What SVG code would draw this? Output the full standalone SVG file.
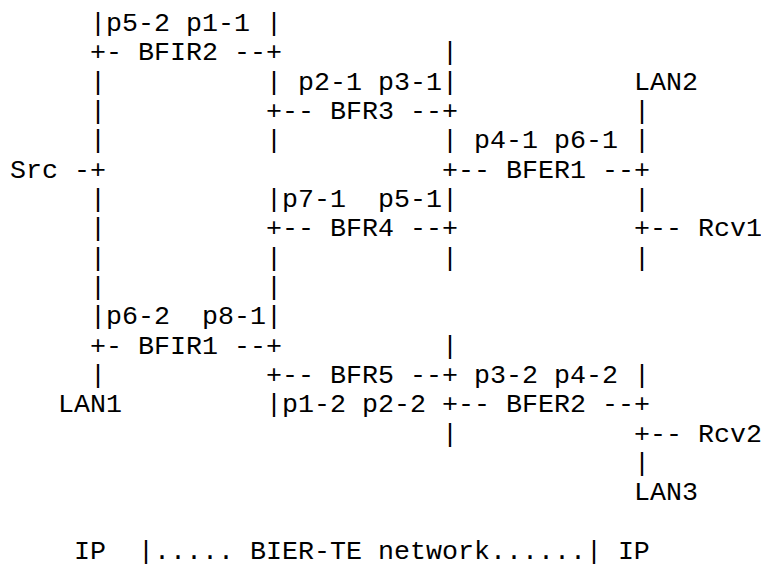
<svg xmlns="http://www.w3.org/2000/svg" width="761" height="566" viewBox="0 0 761 566">
<style>
text { font-family: "Liberation Mono", "Courier New", monospace; font-size: 26.667px; fill: #000; white-space: pre; }
</style>
<rect width="761" height="566" fill="#fff"/>
<g id="connectors">
  <text x="90" y="89.7">|</text>
  <text x="90" y="119">|</text>
  <text x="90" y="148.3">|</text>
  <text x="74" y="177.7">-+</text>
  <text x="90" y="207">|</text>
  <text x="90" y="236.3">|</text>
  <text x="90" y="265.7">|</text>
  <text x="90" y="295">|</text>
  <text x="90" y="383">|</text>
  <text x="266" y="148.3">|</text>
  <text x="266" y="265.7">|</text>
  <text x="266" y="295">|</text>
  <text x="442" y="60.3">|</text>
  <text x="442" y="265.7">|</text>
  <text x="442" y="353.7">|</text>
  <text x="442" y="441.7">|</text>
  <text x="634" y="119">|</text>
  <text x="634" y="207">|</text>
  <text x="634" y="236.3">+--</text>
  <text x="634" y="265.7">|</text>
  <text x="634" y="441.7">+--</text>
  <text x="634" y="471">|</text>
</g>
<g id="BFIR2">
  <text x="90" y="31">|p5-2 p1-1 |</text>
  <text x="90" y="60.3">+- BFIR2 --+</text>
</g>
<g id="BFR3">
  <text x="266" y="89.7">| p2-1 p3-1|</text>
  <text x="266" y="119">+-- BFR3 --+</text>
</g>
<g id="BFER1">
  <text x="442" y="148.3">| p4-1 p6-1 |</text>
  <text x="442" y="177.7">+-- BFER1 --+</text>
</g>
<g id="BFR4">
  <text x="266" y="207">|p7-1  p5-1|</text>
  <text x="266" y="236.3">+-- BFR4 --+</text>
</g>
<g id="BFIR1">
  <text x="90" y="324.3">|p6-2  p8-1|</text>
  <text x="90" y="353.7">+- BFIR1 --+</text>
</g>
<g id="BFR5">
  <text x="266" y="383">+-- BFR5 --+</text>
  <text x="266" y="412.3">|p1-2 p2-2</text>
</g>
<g id="BFER2">
  <text x="474" y="383">p3-2 p4-2 |</text>
  <text x="442" y="412.3">+-- BFER2 --+</text>
</g>
<g id="Src"><text x="10" y="177.7">Src</text></g>
<g id="LAN1"><text x="58" y="412.3">LAN1</text></g>
<g id="LAN2"><text x="634" y="89.7">LAN2</text></g>
<g id="LAN3"><text x="634" y="500.3">LAN3</text></g>
<g id="Rcv1"><text x="698" y="236.3">Rcv1</text></g>
<g id="Rcv2"><text x="698" y="441.7">Rcv2</text></g>
<g id="legend"><text x="74" y="559">IP  |..... BIER-TE network......| IP</text></g>
</svg>
